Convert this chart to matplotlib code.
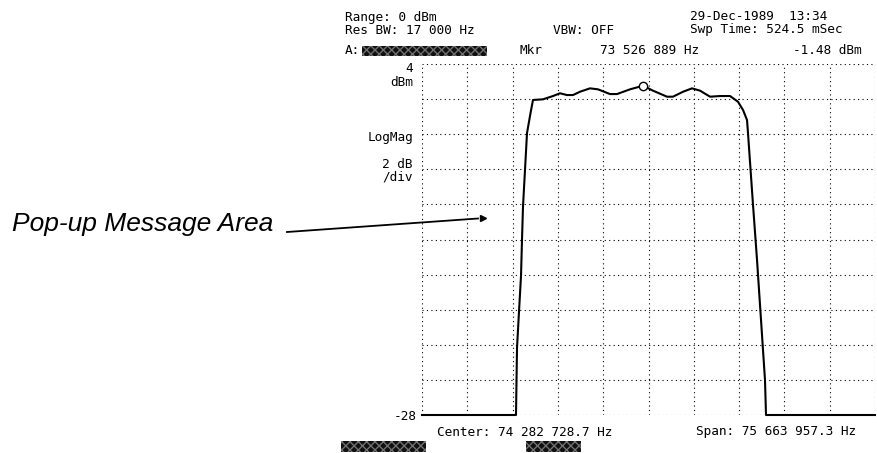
import matplotlib.pyplot as plt
from matplotlib.patches import Rectangle

# trace (frequency in MHz, level in dBm)
freq_mhz = [36.45, 52.15, 52.32, 52.65, 52.99, 53.15, 53.32, 53.99, 54.60, 54.99,
            56.66, 58.33, 59.50, 60.67, 61.67, 62.84, 64.51, 65.85, 67.85, 69.02,
            71.19, 73.37, 75.03, 77.37, 78.37, 80.05, 81.55, 82.89, 84.56, 86.23,
            87.90, 89.23, 90.07, 90.74, 90.90, 91.74, 92.41, 93.74, 93.91, 112.11]
level_dbm = [-28.0, -28.0, -21.9, -18.6, -15.3, -12.1, -9.0, -2.3, -0.4, 0.72,
             0.78, 1.08, 1.33, 1.17, 1.17, 1.47, 1.78, 1.69, 1.26, 1.26,
             1.69, 2.02, 1.57, 1.02, 1.02, 1.47, 1.78, 1.57, 1.02, 1.08,
             1.08, 0.56, -0.19, -1.11, -2.29, -8.85, -13.87, -24.8, -28.0, -28.0]

center_mhz = 74.2827287
span_mhz = 75.6639573
marker_mhz = 73.37
marker_dbm = 2.02
ref_top = 4
ref_bottom = -28

start = center_mhz - span_mhz / 2
stop = center_mhz + span_mhz / 2

W, H = 878, 453
mono = 'DejaVu Sans Mono'
fs = 9.2


def px(x, y):
    return x / W, 1 - y / H


fig = plt.figure(figsize=(W / 100, H / 100), dpi=100)
ax = fig.add_axes([422 / W, 1 - 415 / H, (875 - 422) / W, (415 - 64) / H])

ax.plot(freq_mhz, level_dbm, color='black', lw=1.5, clip_on=False, zorder=3,
        solid_joinstyle='round')
ax.plot([marker_mhz], [marker_dbm], 'o', mfc='white', mec='black', ms=6, mew=1, zorder=4)

ax.set_xlim(start, stop)
ax.set_ylim(ref_bottom, ref_top)
ax.set_xticks([start + span_mhz * k / 10 for k in range(11)])
ax.set_yticks([ref_bottom + (ref_top - ref_bottom) * k / 10 for k in range(11)])
ax.tick_params(length=0, labelleft=False, labelbottom=False)
ax.grid(True, color='black', linestyle=(0, (1, 3)), lw=0.8)
for s in ax.spines.values():
    s.set_visible(False)

# header lines
fig.text(*px(345, 17), 'Range: 0 dBm', family=mono, size=fs, va='center')
fig.text(*px(345, 30), 'Res BW: 17 000 Hz', family=mono, size=fs, va='center')
fig.text(*px(553, 30), 'VBW: OFF', family=mono, size=fs, va='center')
fig.text(*px(690, 17), '29-Dec-1989  13:34', family=mono, size=fs, va='center')
fig.text(*px(690, 30), 'Swp Time: 524.5 mSec', family=mono, size=fs, va='center')
fig.text(*px(345, 50), 'A:', family=mono, size=fs, va='center')
fig.text(*px(520, 50), 'Mkr', family=mono, size=fs, va='center')
fig.text(*px(600, 50), '73 526 889 Hz', family=mono, size=fs, va='center')
fig.text(*px(793, 50), '-1.48 dBm', family=mono, size=fs, va='center')

# left scale annotations
fig.text(*px(413, 68), '4', family=mono, size=fs, va='center', ha='right')
fig.text(*px(413, 83), 'dBm', family=mono, size=fs, va='center', ha='right')
fig.text(*px(413, 138), 'LogMag', family=mono, size=fs, va='center', ha='right')
fig.text(*px(413, 164), '2 dB', family=mono, size=fs, va='center', ha='right')
fig.text(*px(413, 177), '/div', family=mono, size=fs, va='center', ha='right')
fig.text(*px(417, 416), '-28', family=mono, size=fs, va='center', ha='right')

# footer
fig.text(*px(437, 432), 'Center: 74 282 728.7 Hz', family=mono, size=fs, va='center')
fig.text(*px(696, 432), 'Span: 75 663 957.3 Hz', family=mono, size=fs, va='center')

# softkey bars
for x0, x1, y0, y1 in [(362, 487, 46, 56), (341, 426, 441, 452), (526, 581, 441, 452)]:
    fig.patches.append(Rectangle(px(x0, y1), (x1 - x0) / W, (y1 - y0) / H,
                                 transform=fig.transFigure, facecolor='#101010',
                                 edgecolor='#707070', hatch='xxxx', lw=0))

# callout
fig.text(*px(12, 224), 'Pop-up Message Area', family='Liberation Sans', style='italic',
         size=19, va='center')
fig.add_artist(plt.Line2D([287 / W, 478 / W], [1 - 232 / H, 1 - 218.5 / H],
                          transform=fig.transFigure, color='black', lw=1.3))
fig.add_artist(plt.Line2D([483 / W], [1 - 218 / H], transform=fig.transFigure,
                          marker='>', color='black', ms=5))

fig.savefig('out.png', dpi=100)
